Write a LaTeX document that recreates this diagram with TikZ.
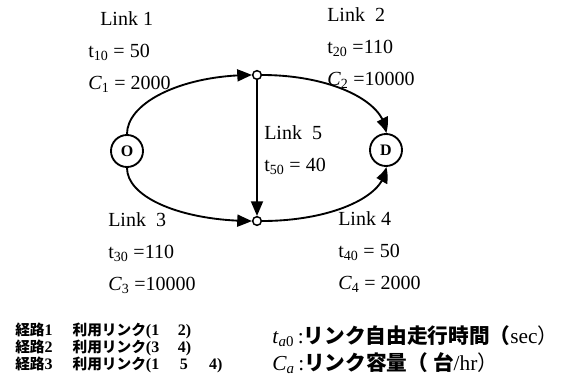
\documentclass[tikz,border=0pt]{standalone}
\usepackage{fontspec}
\setmainfont{Liberation Serif}
\newfontfamily\cjk{Noto Sans CJK JP}
\usetikzlibrary{arrows.meta,bending}

\begin{document}
\begin{tikzpicture}[
  x=0.75pt, y=0.75pt,
  endpt/.style={draw, circle, line width=1.4pt, minimum size=24pt, inner sep=0pt,
                font=\fontsize{12}{12}\selectfont\bfseries},
  junction/.style={draw, circle, line width=1.1pt, minimum size=6.5pt, inner sep=0pt, fill=white},
  link/.style={-{Triangle[length=11pt,width=9pt,bend]}, line width=1.4pt},
  info/.style={anchor=north west, inner sep=0pt, align=left, font=\fontsize{15}{24}\selectfont},
  route/.style={anchor=base west, inner sep=0pt, font=\fontsize{12}{12}\selectfont\bfseries},
  note/.style={anchor=base west, inner sep=0pt, font=\fontsize{16}{16}\selectfont},
]
  \useasboundingbox (0,0) rectangle (561,380);

  % origin, destination and the two middle junctions
  \node[endpt] (O) at (127,229) {O};
  \node[endpt] (D) at (386,230) {D};
  \node[junction] (top) at (257,305) {};
  \node[junction] (bot) at (257,159) {};

  \draw[link] (O.north) .. controls +(0,32) and +(-69,0) .. (top.west);
  \draw[link] (top.east) .. controls +(68,0) and +(0,32) .. (D.north);
  \draw[link] (O.south) .. controls +(0,-30) and +(-69,0) .. (bot.west);
  \draw[link] (bot.east) .. controls +(68,0) and +(0,-30) .. (D.south);
  \draw[link] (top.south) -- (bot.north);

  % link data
  \node[info] (l1) at (88,369) {\hspace{9pt}Link 1\\t\textsubscript{10} = 50\\\textit{C}\textsubscript{1} = 2000};
  \node[info] (l2) at (327,373) {Link\ \ 2\\t\textsubscript{20} =110\\\textit{C}\textsubscript{2} =10000};
  \node[info] (l5) at (264,255) {Link\ \ 5\\t\textsubscript{50} = 40};
  \node[info] (l3) at (108,168) {Link\ \ 3\\t\textsubscript{30} =110\\\textit{C}\textsubscript{3} =10000};
  \node[info] (l4) at (338,169) {Link 4\\t\textsubscript{40} = 50\\\textit{C}\textsubscript{4} = 2000};

  % routes
  \node[route] (r1) at (15,45) {{\cjk\fontsize{11}{12}\selectfont 経路}1\hspace{15pt}{\cjk\fontsize{11}{12}\selectfont 利用リンク}(1\hspace{14pt}2)};
  \node[route] (r2) at (15,28) {{\cjk\fontsize{11}{12}\selectfont 経路}2\hspace{15pt}{\cjk\fontsize{11}{12}\selectfont 利用リンク}(3\hspace{14pt}4)};
  \node[route] (r3) at (15,11) {{\cjk\fontsize{11}{12}\selectfont 経路}3\hspace{15pt}{\cjk\fontsize{11}{12}\selectfont 利用リンク}(1\hspace{15.5pt}5\hspace{16pt}4)};

  % legend
  \node[note] (n1) at (272,37) {\textit{t}\textsubscript{\textit{a}0}\,:{\cjk\bfseries\fontsize{15.5}{16}\selectfont リンク自由走行時間（}sec{\cjk\fontsize{15.5}{16}\selectfont ）}};
  \node[note] (n2) at (272,10) {\textit{C}\textsubscript{\textit{a}}\,:{\cjk\bfseries\fontsize{15.5}{16}\selectfont リンク容量（ 台}/hr{\cjk\fontsize{15.5}{16}\selectfont ）}};
\end{tikzpicture}
\end{document}
